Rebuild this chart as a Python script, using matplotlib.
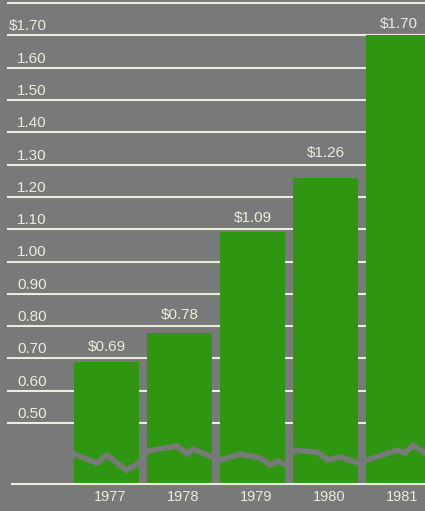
import math
import matplotlib
matplotlib.use("Agg")
import matplotlib.pyplot as plt
import matplotlib.transforms as mtransforms

# data
years = ["1977", "1978", "1979", "1980", "1981"]
dividends = [0.69, 0.78, 1.09, 1.26, 1.70]
grid_values = [0.50, 0.60, 0.70, 0.80, 0.90, 1.00, 1.10, 1.20, 1.30, 1.40, 1.50, 1.60, 1.70, 1.80]
tick_labels = ["0.50", "0.60", "0.70", "0.80", "0.90", "1.00", "1.10", "1.20",
               "1.30", "1.40", "1.50", "1.60", "$1.70"]
# jagged axis-break band drawn across the bars
break_x = [-0.445, -0.130, 0.007, 0.267, 0.445,
           0.555, 0.966, 1.103, 1.185, 1.445,
           1.555, 1.829, 2.103, 2.240, 2.349, 2.459,
           2.555, 2.884, 3.034, 3.199, 3.445,
           3.555, 3.979, 4.089, 4.199, 4.363]
break_y = [0.404, 0.376, 0.401, 0.354, 0.376,
           0.413, 0.429, 0.404, 0.420, 0.395,
           0.385, 0.404, 0.392, 0.370, 0.382, 0.370,
           0.416, 0.410, 0.385, 0.395, 0.376,
           0.385, 0.416, 0.407, 0.432, 0.407]

BG = "#777a79"
GREEN = "#2f9612"
CREAM = "#ececdc"
baseline = 0.311

plt.rcParams['font.family'] = ['Liberation Sans', 'DejaVu Sans']

fig = plt.figure(figsize=(4.25, 5.11), dpi=100)
fig.patch.set_facecolor(BG)
ax = fig.add_axes([0, 0, 1, 1])
ax.set_facecolor(BG)
ax.set_xlim(-1.459, 4.363)
ax.set_ylim(0.2276, 1.8096)
ax.axis("off")

# grid lines behind bars
for v in grid_values:
    ax.axhline(v, xmin=8 / 425, xmax=1, color=CREAM, lw=1.5, zorder=1)

x = list(range(len(years)))
heights = [d - baseline for d in dividends]
ax.bar(x, heights, bottom=baseline, width=0.89, color=GREEN, zorder=2)

# axis break band
ax.plot(break_x, break_y, color=BG, lw=4, solid_joinstyle="miter", zorder=3)

# baseline
ax.axhline(baseline, xmin=12 / 425, xmax=1, color=CREAM, lw=1.5, zorder=4)

# y labels sitting above the grid lines
trans = mtransforms.blended_transform_factory(ax.transAxes, ax.transData)
for v, lab in zip(grid_values, tick_labels):
    ax.annotate(lab, xy=(47 / 425, v), xycoords=trans, xytext=(0, 6.5),
                textcoords="offset points", ha="right", va="center",
                color=CREAM, fontsize=11, zorder=5)

# value labels sit just above the next grid line over each bar
for xi, d in zip(x, dividends):
    above = math.ceil(d * 10 - 1e-6) / 10
    ax.annotate("$%.2f" % d, xy=(xi, above), xytext=(0, 8), textcoords="offset points",
                ha="center", va="center", color=CREAM, fontsize=11, zorder=5)

# year labels
for xi, yr in zip(x, years):
    ax.text(xi + 0.05, 0.271, yr, ha="center", va="center", color=CREAM,
            fontsize=10.5, zorder=5)

fig.savefig("out.png", dpi=100, facecolor=BG)
